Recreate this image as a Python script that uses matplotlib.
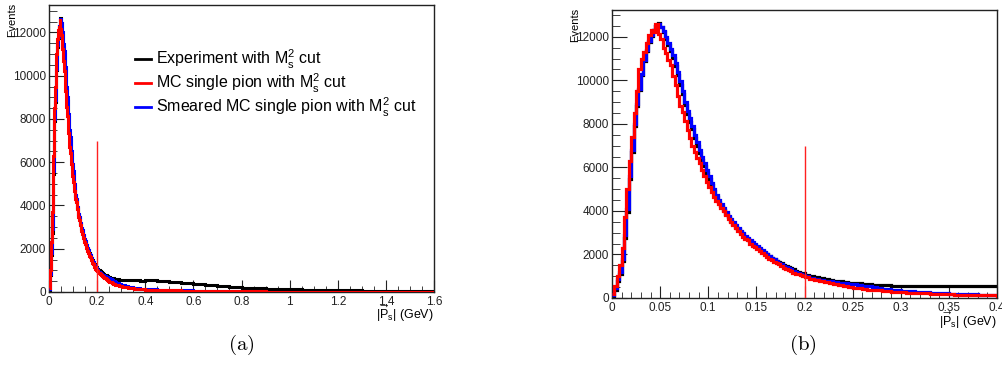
import numpy as np
import matplotlib
matplotlib.use('Agg')
import matplotlib.pyplot as plt
from matplotlib.lines import Line2D
from matplotlib.ticker import MultipleLocator, FuncFormatter

plt.rcParams['font.family'] = ['Liberation Sans', 'DejaVu Sans']
plt.rcParams['mathtext.fontset'] = 'custom'
plt.rcParams['mathtext.rm'] = 'Liberation Sans'
plt.rcParams['mathtext.it'] = 'Liberation Sans:italic'
plt.rcParams['mathtext.bf'] = 'Liberation Sans:bold'

# bin edges: 0.0025 GeV up to 0.2, 0.005 GeV up to 0.4, 0.05 GeV up to 1.6
edges = np.round(np.concatenate([
    np.arange(0, 0.2 + 1e-9, 0.0025),
    np.arange(0.205, 0.4 + 1e-9, 0.005),
    np.arange(0.45, 1.6 + 1e-9, 0.05),
]), 4)

# experiment with M_s^2 cut
experiment = [
    100, 380, 780, 1120, 1700, 2750, 3950, 5450, 6700, 7900,
    8800, 9550, 10250, 10900, 11350, 11750, 12050, 12300, 12500, 12650,
    12450, 12200, 11900, 11600, 11330, 11020, 10650, 10250, 9800, 9350,
    8850, 8450, 8100, 7750, 7350, 7000, 6650, 6350, 6050, 5760,
    5470, 5180, 4900, 4650, 4420, 4220, 4050, 3880, 3710, 3560,
    3410, 3280, 3150, 3030, 2920, 2810, 2700, 2600, 2500, 2420,
    2330, 2250, 2160, 2080, 2000, 1930, 1860, 1790, 1720, 1650,
    1590, 1530, 1470, 1410, 1360, 1310, 1260, 1210, 1170, 1130,
    # 0.2 - 0.4
    1070, 1010, 960, 910, 870, 830, 795, 765, 735, 710,
    688, 667, 648, 630, 615, 602, 590, 580, 572, 566,
    560, 556, 552, 550, 547, 545, 543, 541, 540, 538,
    537, 536, 535, 534, 533, 532, 531, 530, 530, 529,
    # 0.4 - 1.6
    535, 510, 450, 400, 350, 310, 265, 225, 200, 180, 160, 140,
    125, 110, 100, 90, 80, 72, 65, 58, 52, 45, 40, 35,
]

# MC single pion with M_s^2 cut
mc_pion = [
    200, 550, 1000, 1500, 2300, 3700, 5000, 6300, 7400, 8500,
    9500, 10500, 11000, 11300, 11700, 12100, 12300, 12200, 12600, 12150,
    11900, 11500, 11250, 10950, 10700, 10200, 9800, 9300, 8800, 8550,
    8150, 7700, 7350, 7000, 6700, 6450, 6200, 5900, 5600, 5350,
    5100, 4850, 4650, 4450, 4300, 4150, 3990, 3830, 3650, 3480,
    3340, 3220, 3100, 2960, 2820, 2700, 2650, 2500, 2400, 2320,
    2230, 2140, 2050, 1970, 1880, 1800, 1730, 1660, 1600, 1540,
    1470, 1400, 1340, 1280, 1220, 1170, 1120, 1080, 1040, 1000,
    # 0.2 - 0.4
    950, 890, 830, 780, 730, 680, 630, 585, 545, 510,
    480, 450, 420, 390, 365, 345, 325, 310, 295, 280,
    265, 250, 240, 230, 220, 210, 200, 190, 182, 175,
    168, 160, 155, 150, 145, 140, 135, 130, 125, 120,
    # 0.4 - 1.6
    110, 95, 80, 68, 57, 48, 40, 34, 29, 25, 21, 18,
    16, 14, 12, 10, 9, 8, 7, 6, 5, 5, 4, 4,
]

# smeared MC single pion with M_s^2 cut
smeared_mc = [
    150, 450, 850, 1200, 1800, 2900, 4100, 5600, 6800, 8000,
    8900, 9600, 10300, 10950, 11400, 11800, 12100, 12300, 12500, 12600,
    12450, 12250, 12000, 11700, 11450, 11150, 10800, 10400, 9950, 9500,
    9000, 8600, 8250, 7900, 7500, 7150, 6800, 6500, 6200, 5900,
    5600, 5300, 5000, 4750, 4500, 4300, 4120, 3950, 3780, 3620,
    3470, 3340, 3210, 3090, 2970, 2860, 2750, 2650, 2550, 2460,
    2370, 2280, 2190, 2100, 2020, 1940, 1860, 1780, 1700, 1630,
    1560, 1490, 1430, 1370, 1310, 1260, 1210, 1160, 1110, 1070,
    # 0.2 - 0.4
    1010, 940, 880, 830, 800, 770, 740, 710, 680, 660,
    630, 600, 565, 530, 495, 460, 430, 405, 380, 360,
    340, 320, 305, 290, 275, 260, 250, 240, 225, 215,
    205, 195, 185, 178, 170, 162, 155, 150, 145, 140,
    # 0.4 - 1.6
    125, 105, 90, 75, 62, 52, 44, 37, 32, 27, 23, 20,
    17, 15, 13, 11, 10, 9, 8, 7, 6, 5, 5, 4,
]

cut_value = 0.2
cut_height = 7000

labels = [r'Experiment with $\mathrm{M}_\mathrm{s}^2$ cut',
          r'MC single pion with $\mathrm{M}_\mathrm{s}^2$ cut',
          r'Smeared MC single pion with $\mathrm{M}_\mathrm{s}^2$ cut']
colors = ['black', '#ff0000', '#0000ff']
xtitle = r'$|\overrightarrow{\mathrm{P}}_\mathrm{s}|$ (GeV)'

W, H = 1003, 385
fig = plt.figure(figsize=(W / 100, H / 100), dpi=100)

def px(x, y):
    return x / W, 1 - y / H

def draw_panel(ax, xmax, major, minor, lw, ytop):
    ax.stairs(experiment, edges, color=colors[0], lw=lw, baseline=None, zorder=2)
    ax.stairs(smeared_mc, edges, color=colors[2], lw=lw, baseline=None, zorder=3)
    ax.stairs(mc_pion, edges, color=colors[1], lw=lw, baseline=None, zorder=4)
    ax.vlines(cut_value, 0, cut_height, color='#ff2020', lw=1.0, zorder=5)
    ax.set_xlim(0, xmax)
    ax.set_ylim(0, ytop)
    ax.xaxis.set_major_locator(MultipleLocator(major))
    ax.xaxis.set_minor_locator(MultipleLocator(minor))
    ax.yaxis.set_major_locator(MultipleLocator(2000))
    ax.yaxis.set_minor_locator(MultipleLocator(500))
    ax.xaxis.set_major_formatter(FuncFormatter(lambda v, p: '%g' % round(v, 3)))
    ax.yaxis.set_major_formatter(FuncFormatter(lambda v, p: '%d' % v))
    ax.tick_params(which='both', direction='in', labelsize=8.5, colors='#222222',
                   top=False, right=False)
    ax.tick_params(axis='y', which='major', length=11, pad=2)
    ax.tick_params(axis='y', which='minor', length=5.5)
    ax.tick_params(axis='x', which='major', length=8.5, pad=3)
    ax.tick_params(axis='x', which='minor', length=4.5)
    for s in ax.spines.values():
        s.set_linewidth(1.0)
        s.set_color('#222222')

# panel (a)
l, t, r, b = 49, 5, 434, 292
ax1 = fig.add_axes([l / W, 1 - b / H, (r - l) / W, (b - t) / H])
draw_panel(ax1, 1.6, 0.2, 0.05, 2.2, 13270)
ax1.text(1.0, (b - 314) / (b - t), xtitle,
         transform=ax1.transAxes, ha='right', va='center', fontsize=9)
fig.text(*px(12, 3), 'Events', rotation=90, ha='center', va='top', fontsize=8)
handles = [Line2D([], [], color=c, lw=2) for c in colors]
fig.legend(handles, labels, loc='upper left', bbox_to_anchor=px(135, 48),
           frameon=False, fontsize=11.5, handlelength=1.0, handletextpad=0.3,
           labelspacing=0.04, borderpad=0, borderaxespad=0)

# panel (b)
l, t, r, b = 612, 10, 997, 298
ax2 = fig.add_axes([l / W, 1 - b / H, (r - l) / W, (b - t) / H])
draw_panel(ax2, 0.4, 0.05, 0.01, 2.3, 13230)
ax2.text(1.0, (b - 321) / (b - t), xtitle,
         transform=ax2.transAxes, ha='right', va='center', fontsize=9)
fig.text(*px(575, 8), 'Events', rotation=90, ha='center', va='top', fontsize=8)

# captions
fig.text(*px(241, 345), r'$\mathrm{(a)}$', math_fontfamily='cm', fontsize=15,
         ha='center', va='center')
fig.text(*px(803, 345), r'$\mathrm{(b)}$', math_fontfamily='cm', fontsize=15,
         ha='center', va='center')

fig.savefig('out.png', dpi=100)
